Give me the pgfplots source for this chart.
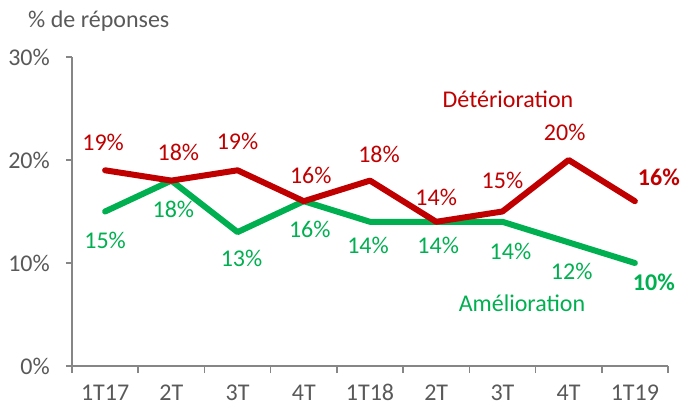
\documentclass[border=0pt]{standalone}
\usepackage{fontspec}
\setmainfont{Carlito}
\usepackage{pgfplots}
\usepackage{pgfplotstable}
\pgfplotsset{compat=1.18}
\definecolor{cred}{HTML}{C00000}
\definecolor{cgreen}{HTML}{00B050}
\definecolor{txtgray}{HTML}{595959}
\definecolor{axgray}{HTML}{868686}
\newcommand{\fs}{\fontsize{24bp}{28bp}\selectfont}

\pgfplotstableread{
x y dx dy
0 19 -2 28
1 18 7 28
2 19 0 29
3 16 7 26
4 18 9 26
5 14 0 24
6 15 0 31
7 20 -4 28
}\redlab

\pgfplotstableread{
x y dx dy
0 15 0 -29
1 18 2 -29
2 13 4 -26
3 16 6 -28
4 14 -2 -24
5 14 2 -24
6 14 8 -30
7 12 3 -29
}\greenlab

\begin{document}
\begin{tikzpicture}
\begin{axis}[
  scale only axis, width=596bp, height=309bp,
  xmin=-0.5, xmax=8.5, ymin=0, ymax=30,
  axis x line=bottom, axis y line=left,
  axis line style={-, draw=axgray, line width=1.5bp},
  xtick={0,...,8},
  xticklabels={1T17,2T,3T,4T,1T18,2T,3T,4T,1T19},
  minor xtick={-0.5,0.5,...,8.5},
  ytick={0,10,20,30},
  yticklabels={0\%,10\%,20\%,30\%},
  tick align=outside,
  major x tick style={draw=none},
  minor x tick style={draw=axgray, line width=1.5bp},
  minor tick length=7bp,
  y tick style={draw=axgray, line width=1.5bp},
  major tick length=6bp,
  tick label style={font=\fs, text=txtgray, inner sep=0pt},
  xticklabel style={anchor=base, yshift=-28bp},
  yticklabel style={anchor=east, xshift=-16bp},
  clip=false,
]
\addplot[cgreen, line width=6bp, line cap=round, line join=round, mark=none]
  coordinates {(0,15) (1,18) (2,13) (3,16) (4,14) (5,14) (6,14) (7,12) (8,10)};
\addplot[cred, line width=6bp, line cap=round, line join=round, mark=none]
  coordinates {(0,19) (1,18) (2,19) (3,16) (4,18) (5,14) (6,15) (7,20) (8,16)};

\addplot[draw=none, forget plot, point meta=y,
  visualization depends on={\thisrow{dx}\as\lblx},
  visualization depends on={\thisrow{dy}\as\lbly},
  nodes near coords={\pgfmathprintnumber[assume math mode=true]{\pgfplotspointmeta}\%},
  every node near coord/.append style={font=\fs, text=cred, anchor=center, inner sep=0pt, xshift=\lblx bp, yshift=\lbly bp}]
  table[x=x,y=y]{\redlab};
\addplot[draw=none, forget plot, point meta=y,
  visualization depends on={\thisrow{dx}\as\lblx},
  visualization depends on={\thisrow{dy}\as\lbly},
  nodes near coords={\pgfmathprintnumber[assume math mode=true]{\pgfplotspointmeta}\%},
  every node near coord/.append style={font=\fs, text=cgreen, anchor=center, inner sep=0pt, xshift=\lblx bp, yshift=\lbly bp}]
  table[x=x,y=y]{\greenlab};

\addplot[draw=none, forget plot, point meta=y,
  nodes near coords={\textbf{\pgfmathprintnumber[assume math mode=true]{\pgfplotspointmeta}\%}},
  every node near coord/.append style={font=\fs, text=cred, anchor=center, inner sep=0pt, xshift=24bp, yshift=24bp}]
  coordinates {(8,16)};
\addplot[draw=none, forget plot, point meta=y,
  nodes near coords={\textbf{\pgfmathprintnumber[assume math mode=true]{\pgfplotspointmeta}\%}},
  every node near coord/.append style={font=\fs, text=cgreen, anchor=center, inner sep=0pt, xshift=19bp, yshift=-19bp}]
  coordinates {(8,10)};
\end{axis}
\node[anchor=base, font=\fs, text=cred, inner sep=0pt] at (436bp,258bp) {Détérioration};
\node[anchor=base, font=\fs, text=cgreen, inner sep=0pt] at (450bp,54bp) {Amélioration};
\node[anchor=base west, font=\fs, text=txtgray, inner sep=0pt] at (-44bp,338bp) {\% de réponses};
\pgfresetboundingbox
\useasboundingbox (-72bp,-39bp) rectangle (611bp,366bp);
\end{tikzpicture}
\end{document}
